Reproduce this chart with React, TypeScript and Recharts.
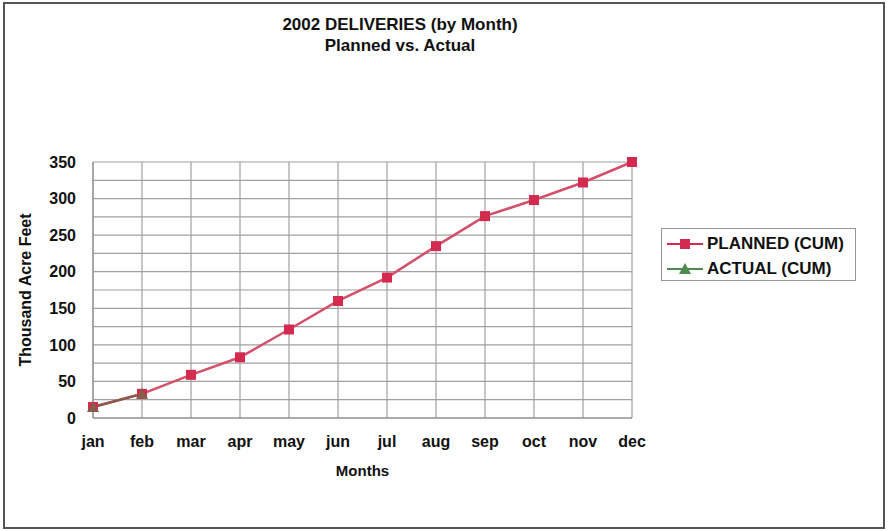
import React from 'react'
import {
  LineChart, Line, XAxis, YAxis, CartesianGrid, Label,
} from 'recharts'

const months = ['jan', 'feb', 'mar', 'apr', 'may', 'jun', 'jul', 'aug', 'sep', 'oct', 'nov', 'dec']
const planned = [15, 33, 59, 83, 121, 160, 192, 235, 276, 298, 322, 350]
const actual: (number | null)[] = [15, 33, null, null, null, null, null, null, null, null, null, null]
const yTicks = [0, 50, 100, 150, 200, 250, 300, 350]
const gridValues = [0, 25, 50, 75, 100, 125, 150, 175, 200, 225, 250, 275, 300, 325, 350]

const data = months.map((m, i) => ({ month: m, planned: planned[i], actual: actual[i] }))

const FONT = '"Liberation Sans", Arial, sans-serif'
const PLAN_LINE = '#d4506a'
const PLAN_MARK = '#d42a50'
const ACT = '#4e8a4e'

const SquareDot = (props: any) => {
  const { cx, cy } = props
  if (cx == null || cy == null) return null
  return <rect x={cx - 5} y={cy - 5} width={10} height={10} fill={PLAN_MARK} />
}

const TriDot = (props: any) => {
  const { cx, cy } = props
  if (cx == null || cy == null) return null
  return <path d={`M${cx},${cy - 6} L${cx + 6},${cy + 5} L${cx - 6},${cy + 5} Z`} fill="#8a5a4a" />
}

function LegendBox() {
  const row = (label: string, color: string, tri: boolean) => (
    <div style={{ display: 'flex', alignItems: 'center', height: 25 }}>
      <svg width={38} height={14} style={{ marginRight: 3 }}>
        <line x1={1} y1={7} x2={37} y2={7} stroke={color} strokeWidth={2.2} />
        {tri
          ? <path d="M19,1 L25,12 L13,12 Z" fill={color} />
          : <rect x={14} y={2} width={10} height={10} fill={color} />}
      </svg>
      <span>{label}</span>
    </div>
  )
  return (
    <div style={{
      position: 'absolute', left: 656, top: 224,
      border: '1px solid #999', width: 195, height: 53, boxSizing: 'border-box',
      padding: '2px 0 0 4px', fontFamily: FONT, fontWeight: 700, fontSize: 17, color: '#111',
      background: '#fff',
    }}>
      {row('PLANNED (CUM)', PLAN_MARK, false)}
      {row('ACTUAL (CUM)', ACT, true)}
    </div>
  )
}

export default function App() {
  return (
    <div style={{
      position: 'absolute', left: 3, top: 2, width: 882, height: 527,
      border: '2px solid #555', boxSizing: 'border-box', background: '#fff', fontFamily: FONT,
    }}>
      <LineChart
        width={888}
        height={531}
        data={data}
        margin={{ top: 162, right: 256, bottom: 53, left: 43 }}
        style={{ position: 'absolute', left: -5, top: -4 }}
      >
        <CartesianGrid stroke="#a0a0a0" strokeWidth={1.2} horizontalValues={gridValues} />
        <XAxis
          dataKey="month"
          axisLine={{ stroke: '#888' }}
          tickLine={false}
          tick={{ fill: '#111', fontSize: 16, fontWeight: 700, fontFamily: FONT }}
          tickMargin={12}
          height={60}
          interval={0}
        >
          <Label value="Months" position="insideBottom" offset={2}
            style={{ fill: '#111', fontSize: 15, fontWeight: 700, fontFamily: FONT }} />
        </XAxis>
        <YAxis
          domain={[0, 350]}
          ticks={yTicks}
          interval={0}
          axisLine={{ stroke: '#888' }}
          tickLine={false}
          tick={{ fill: '#111', fontSize: 16, fontWeight: 700, fontFamily: FONT }}
          tickMargin={11}
          width={50}
        >
          <Label value="Thousand Acre Feet" angle={-90} position="insideLeft" offset={-18}
            style={{ textAnchor: 'middle', fill: '#111', fontSize: 16, fontWeight: 700, fontFamily: FONT }} />
        </YAxis>
        <Line
          type="linear"
          dataKey="planned"
          name="PLANNED (CUM)"
          stroke={PLAN_LINE}
          strokeWidth={2.5}
          dot={<SquareDot />}
          activeDot={false}
          isAnimationActive={false}
        />
        <Line
          type="linear"
          dataKey="actual"
          name="ACTUAL (CUM)"
          stroke="#8a5a4a"
          strokeWidth={2.5}
          dot={<TriDot />}
          activeDot={false}
          connectNulls={false}
          isAnimationActive={false}
        />
      </LineChart>
      <div style={{
        position: 'absolute', left: -5, width: 800, top: 10, textAlign: 'center',
        fontWeight: 700, fontSize: 17, lineHeight: '21px', color: '#111',
      }}>
        2002 DELIVERIES (by Month)<br />Planned vs. Actual
      </div>
      <LegendBox />
    </div>
  )
}
